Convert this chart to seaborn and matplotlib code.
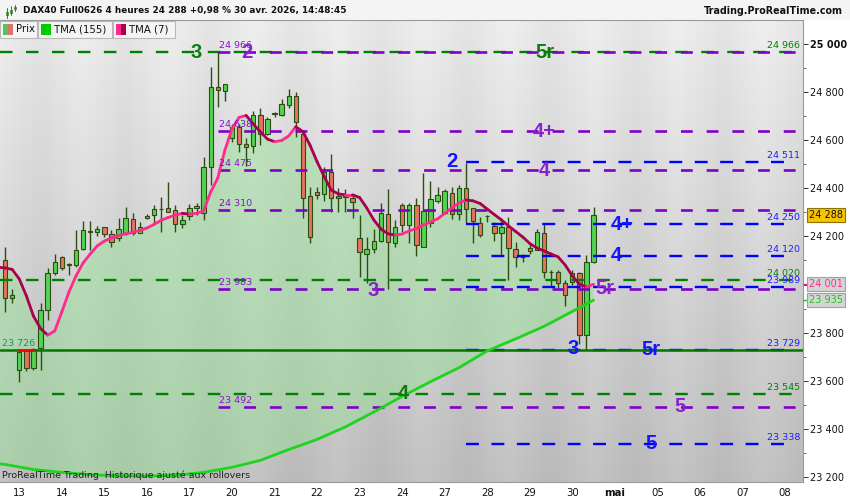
import numpy as np
import matplotlib
matplotlib.use("Agg")
import matplotlib.pyplot as plt
import seaborn as sns
from matplotlib.patches import Rectangle
from matplotlib.lines import Line2D
from matplotlib.collections import LineCollection
from matplotlib.transforms import blended_transform_factory

# --- bougies 4 heures, barre 0 = ven. 10 avr. 16h ---
opens = [24102, 23943, 23645, 23725, 23652, 23735, 23894, 24047, 24113, 24083,
         24081, 24147, 24220, 24220, 24238, 24210, 24192, 24213, 24272, 24213,
         24276, 24290, 24313, 24317, 24310, 24252, 24285, 24317, 24296, 24490,
         24823, 24806, 24608, 24657, 24585, 24575, 24704, 24627, 24710, 24706,
         24746, 24783, 24628, 24367, 24386, 24376, 24469, 24369, 24367, 24361,
         24192, 24127, 24147, 24183, 24294, 24172, 24331, 24248, 24331, 24157,
         24255, 24349, 24296, 24382, 24294, 24400, 24317, 24257, 24285, 24244,
         24213, 24238, 24147, 24116, 24151, 24144, 24213, 24054, 24054, 24005,
         24012, 24049, 23790, 24095]
highs = [24158, 23980, 23726, 23730, 23735, 23922, 24068, 24127, 24118, 24090,
         24227, 24266, 24266, 24244, 24238, 24227, 24277, 24321, 24297, 24262,
         24293, 24331, 24366, 24425, 24331, 24290, 24334, 24338, 24529, 24904,
         24966, 24833, 24668, 24668, 24609, 24721, 24734, 24697, 24718, 24771,
         24814, 24801, 24636, 24404, 24407, 24490, 24541, 24400, 24396, 24368,
         24289, 24197, 24230, 24338, 24396, 24268, 24341, 24341, 24359, 24465,
         24432, 24407, 24396, 24404, 24414, 24507, 24317, 24282, 24290, 24262,
         24266, 24282, 24178, 24125, 24167, 24232, 24252, 24061, 24061, 24019,
         24060, 24054, 24123, 24321]
lows = [23887, 23925, 23596, 23640, 23645, 23645, 23853, 24040, 24060, 24040,
        24075, 24144, 24144, 24200, 24198, 24158, 24183, 24206, 24208, 24213,
        24272, 24255, 24220, 24303, 24218, 24235, 24269, 24290, 24269, 24414,
        24740, 24765, 24591, 24550, 24491, 24547, 24580, 24620, 24696, 24700,
        24734, 24614, 24275, 24174, 24354, 24347, 24303, 24303, 24303, 24275,
        24033, 24006, 24130, 24178, 23980, 24158, 24220, 24172, 24119, 24157,
        24238, 24338, 24292, 24272, 24269, 24255, 24172, 24197, 24260, 24183,
        24119, 24019, 24072, 24094, 24127, 24144, 24026, 23991, 23985, 23911,
        23999, 23753, 23728, 24088]
closes = [23943, 23957, 23721, 23652, 23731, 23894, 24047, 24095, 24068, 24087,
          24144, 24227, 24224, 24230, 24210, 24178, 24230, 24276, 24216, 24241,
          24285, 24313, 24315, 24303, 24252, 24269, 24317, 24327, 24488, 24823,
          24809, 24833, 24657, 24585, 24571, 24704, 24627, 24687, 24712, 24750,
          24786, 24676, 24358, 24196, 24372, 24467, 24359, 24359, 24365, 24345,
          24134, 24147, 24183, 24299, 24176, 24238, 24248, 24331, 24165, 24306,
          24355, 24373, 24390, 24294, 24400, 24313, 24264, 24206, 24283, 24214,
          24238, 24151, 24113, 24113, 24140, 24220, 24051, 24052, 24005, 23957,
          24047, 23790, 24095, 24288]

day_labels = ['13', '14', '15', '16', '17', '20', '21', '22', '23', '24',
              '27', '28', '29', '30', 'mai', '05', '06', '07', '08']

# --- moyennes mobiles triangulaires ---
tma7_bars = list(range(-1, 84))
tma7_vals = [24072, 24069, 24063, 24023, 23953, 23869, 23817, 23790, 23807, 23886,
             23969, 24036, 24090, 24127, 24161, 24181, 24194, 24204, 24211, 24217,
             24225, 24235, 24250, 24267, 24279, 24289, 24296, 24293, 24296, 24306,
             24385, 24443, 24559, 24647, 24695, 24703, 24668, 24635, 24605, 24594,
             24599, 24618, 24656, 24636, 24580, 24511, 24449, 24393, 24377, 24373,
             24373, 24362, 24319, 24269, 24231, 24211, 24206, 24210, 24223, 24233,
             24248, 24260, 24273, 24296, 24319, 24339, 24352, 24348, 24337, 24314,
             24291, 24269, 24244, 24221, 24198, 24171, 24152, 24140, 24127, 24115,
             24081, 24036, 24002, 23990, 24001]
tma155_bars = [-1, 0, 4, 8, 12, 16, 20, 24, 28, 32, 36, 40, 44, 48, 52, 56, 60,
               64, 68, 72, 76, 80, 83]
tma155_vals = [23256, 23252, 23231, 23219, 23209, 23205, 23204, 23206, 23219,
               23240, 23269, 23314, 23356, 23408, 23470, 23535, 23596, 23654,
               23724, 23774, 23826, 23888, 23935]

# --- niveaux tracés ---
green_levels = [24966, 24020, 23545]
purple_levels = [24966, 24638, 24475, 24310, 23983, 23492]
blue_levels = [24511, 24250, 24120, 23989, 23729, 23338]
support_level = 23726

green_tags = [('3', 26.9, 24966), ('5r', 76.1, 24966), ('4', 56.1, 23545)]
purple_tags = [('2', 34.1, 24966), ('4+', 76.1, 24638), ('4', 76.1, 24475),
               ('3', 51.9, 23975), ('5r', 84.6, 23983), ('5', 95.2, 23492)]
blue_tags = [('2', 63.0, 24511), ('4+', 87.1, 24250), ('4', 86.2, 24120),
             ('3', 80.1, 23735), ('5r', 91.1, 23729), ('5', 91.1, 23338)]

last_price = 24288
tma7_last = 24001
tma155_last = 23935

W, H = 850, 500


def fx(p):
    return p / W


def fy(p):
    return 1 - p / H


def fmt(v):
    return f"{v:,.0f}".replace(',', ' ')


sns.set_theme(style='white')
plt.rcParams['font.family'] = ['DejaVu Sans']
plt.rcParams['lines.scale_dashes'] = False

fig = plt.figure(figsize=(8.5, 5), dpi=100)
fig.patch.set_facecolor('white')
ax = fig.add_axes([0, fy(482), fx(803), (482 - 20) / H])

x_lo, x_hi = -0.72, 112.54
y_lo, y_hi = 23179, 25100

# fond en bandes journalières avec dégradé vertical
n_days = 20
t = np.linspace(0, 1, 200)[:, None]
alt = np.array([0 if (d % 2 == 1) else 1 for d in range(n_days)])[None, :]
bg = (0.895 - 0.17 * t) + 0.04 * alt
ax.imshow(bg, cmap='gray', vmin=0, vmax=1, aspect='auto', origin='upper',
          extent=(-4, -4 + 6 * n_days, y_lo, y_hi), zorder=0, interpolation='bilinear')

# zone verte entre TMA(7) et TMA(155)
poly_x = list(tma7_bars) + list(tma155_bars[::-1])
poly_y = list(tma7_vals) + list(tma155_vals[::-1])
ax.fill(poly_x, poly_y, color='#8fe08f', alpha=0.45, lw=0, zorder=1)

# bougies
idx = np.arange(len(opens))
o = np.array(opens)
c = np.array(closes)
edge = '#2b4d12'
body_cols = np.where(c >= o, '#52d452', '#e6735f')
ax.vlines(idx, lows, highs, color=edge, lw=1.0, zorder=3)
ax.bar(idx, np.abs(c - o), bottom=np.minimum(o, c), width=0.62, color=body_cols,
       edgecolor=edge, linewidth=0.8, zorder=3.5)

# TMA(155)
sns.lineplot(x=tma155_bars, y=tma155_vals, ax=ax, color='#1fd41f', lw=2.0,
             zorder=4.5, sort=False)

# TMA(7) : rose en hausse, bordeaux en baisse
pts = np.column_stack([tma7_bars, tma7_vals])
segs = np.stack([pts[:-1], pts[1:]], axis=1)
seg_cols = ['#ff2a8c' if b >= a else '#a8004e' for a, b in zip(tma7_vals[:-1], tma7_vals[1:])]
ax.add_collection(LineCollection(segs, colors=seg_cols, linewidths=2.0,
                                 capstyle='round', zorder=4.6))

# niveaux horizontaux
for lv in green_levels:
    ax.plot([x_lo, 111.0], [lv, lv], color='#008000', lw=1.7,
            ls=(0, (9, 9.7)), zorder=4)
for lv in purple_levels:
    ax.plot([30, x_hi], [lv, lv], color='#8000c8', lw=1.9,
            ls=(0, (8.5, 10)), zorder=4)
for lv in blue_levels:
    ax.plot([65, 110.8], [lv, lv], color='#0000ff', lw=1.7,
            ls=(0, (9.3, 9)), zorder=4)
ax.plot([x_lo, x_hi], [support_level, support_level], color='#007800', lw=1.8, zorder=4)
ax.plot([2, 4], [support_level, support_level], color='#ff0000', lw=1.8, zorder=4.2)

# étiquettes de prix des niveaux
for lv in purple_levels:
    ax.annotate(fmt(lv), (30, lv), xytext=(1, 1.5), textcoords='offset points',
                color='#8a10d0', fontsize=6.8, ha='left', va='bottom', zorder=5)
for lv in green_levels:
    ax.annotate(fmt(lv), (112.1, lv), xytext=(0, 1.5), textcoords='offset points',
                color='#008000', fontsize=6.8, ha='right', va='bottom', zorder=5)
for lv in blue_levels:
    ax.annotate(fmt(lv), (112.1, lv), xytext=(0, 1.5), textcoords='offset points',
                color='#2020ff', fontsize=6.8, ha='right', va='bottom', zorder=5)
ax.annotate(fmt(support_level), (-0.44, support_level), xytext=(0, 1.5),
            textcoords='offset points', color='#2a8a6a', fontsize=6.8,
            ha='left', va='bottom', zorder=5)

# grandes étiquettes de vagues
tag_font = dict(fontsize=14.5, fontweight='bold', family=['Liberation Sans', 'DejaVu Sans'],
                ha='center', va='center', zorder=6)
for txt, bx, lv in green_tags:
    ax.text(bx, lv, txt, color='#0f7a0f', **tag_font)
for txt, bx, lv in purple_tags:
    ax.text(bx, lv, txt, color='#8a20d0', **tag_font)
for txt, bx, lv in blue_tags:
    ax.text(bx, lv, txt, color='#1414ff', **tag_font)

ax.set_xlim(x_lo, x_hi)
ax.set_ylim(y_lo, y_hi)

# axe des prix à droite
ax.yaxis.tick_right()
yt = list(range(23200, 25001, 200))
ax.set_yticks(yt, [fmt(v) for v in yt])
ax.set_yticks(list(range(23300, 25100, 200)), minor=True)
ax.tick_params(axis='y', which='major', direction='out', length=3.5, width=0.7,
               color='#333333', labelsize=7, pad=1.5, labelcolor='#111111')
ax.tick_params(axis='y', which='minor', direction='out', length=2, width=0.6,
               color='#555555')
for lab in ax.get_yticklabels():
    if lab.get_text() == '25 000':
        lab.set_fontweight('bold')

# axe des dates
xt = [2 + 6 * i for i in range(len(day_labels))]
ax.set_xticks(xt, day_labels)
ax.tick_params(axis='x', direction='out', length=3, width=0.7, color='#333333',
               labelsize=7.3, pad=1.5, labelcolor='#111111')
for lab in ax.get_xticklabels():
    if lab.get_text() == 'mai':
        lab.set_fontweight('bold')

ax.spines['left'].set_visible(False)
for side in ['bottom', 'right', 'top']:
    ax.spines[side].set_color('#9a9a9a')
    ax.spines[side].set_linewidth(0.8)
ax.grid(False)

# étiquettes de dernière valeur à droite
btr = blended_transform_factory(fig.transFigure, ax.transData)
boxes = [(last_price, '#111111', '#f7c400', '#8c7300', None),
         (tma7_last, '#ff2a8c', '#d4d4d4', '#a0a0a0', '#ff2a8c'),
         (tma155_last, '#1fc41f', '#d4d4d4', '#a0a0a0', '#1fc41f')]
for val, tcol, fc, ec, tick in boxes:
    if tick:
        ax.plot([fx(803), fx(809)], [val, val], color=tick, lw=1, transform=btr,
                clip_on=False, zorder=6)
    ax.text(fx(826), val, fmt(val), transform=btr, ha='center', va='center',
            fontsize=7, color=tcol, zorder=7,
            bbox=dict(boxstyle='square,pad=0.22', fc=fc, ec=ec, lw=0.8))

# bandeau de titre
fig.add_artist(Rectangle((0, fy(20)), 1, 20 / H, transform=fig.transFigure,
                         fc='#f4f4f4', ec='none', zorder=0))
for k, (lo_, hi_, b0, b1) in enumerate([(6, 16, 10, 13), (4, 13, 8, 11), (3, 9, 5, 7)]):
    xc = fx(7 + 4 * k)
    fig.add_artist(Line2D([xc, xc], [fy(hi_ + 2), fy(lo_ + 2)], color='#3a7a1a', lw=0.7))
    fig.add_artist(Rectangle((xc - fx(1.3), fy(b1 + 2)), fx(2.6), (b1 - b0) / H,
                             transform=fig.transFigure, fc='#52d452', ec='#3a7a1a', lw=0.5))
fig.text(fx(23), fy(11), 'DAX40 Full0626 4 heures 24 288 +0,98 % 30 avr. 2026, 14:48:45',
         fontsize=6.4, fontweight='bold', va='center', ha='left', color='#111111')
fig.text(fx(843), fy(11), 'Trading.ProRealTime.com', fontsize=6.9, fontweight='bold',
         va='center', ha='right', color='#111111')

# légende
legend_items = [('Prix', 0, 37, ['#52c852', '#e07070']),
                ('TMA (155)', 38, 112, ['#00cc00', '#00cc00']),
                ('TMA (7)', 113, 175, ['#ff2a8c', '#a8004e'])]
for name, x0, x1, cols in legend_items:
    fig.add_artist(Rectangle((fx(x0), fy(38)), fx(x1 - x0), 17 / H,
                             transform=fig.transFigure, fc='#f4f4f4', ec='#b8b8b8',
                             lw=0.8, zorder=8))
    fig.add_artist(Rectangle((fx(x0 + 3), fy(34.5)), fx(5), 10 / H,
                             transform=fig.transFigure, fc=cols[0], ec='none', zorder=9))
    fig.add_artist(Rectangle((fx(x0 + 8), fy(34.5)), fx(5), 10 / H,
                             transform=fig.transFigure, fc=cols[1], ec='none', zorder=9))
    fig.text(fx(x0 + 16), fy(29.5), name, fontsize=7.3, va='center', ha='left',
             color='#111111', zorder=9)

fig.text(fx(2), fy(475), 'ProRealTime Trading  Historique ajusté aux rollovers',
         fontsize=6.8, va='center', ha='left', color='#222222', zorder=9)

fig.savefig('out.png', dpi=100)
